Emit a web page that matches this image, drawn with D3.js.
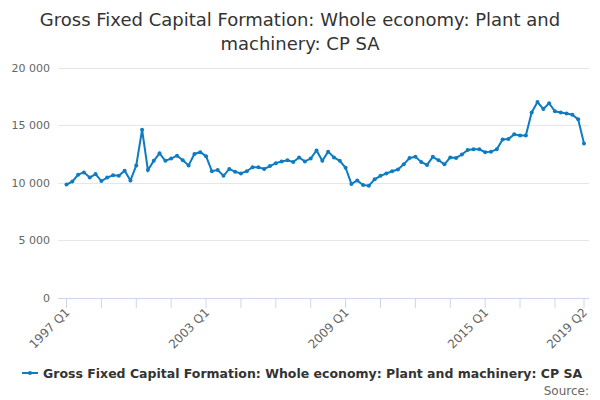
<!DOCTYPE html>
<html><head><meta charset="utf-8">
<script src="https://cdn.jsdelivr.net/npm/d3@7"></script>
<style>body{margin:0;background:#fff;font-family:"DejaVu Sans",sans-serif;}</style>
</head><body><svg id="c" width="600" height="400"></svg>
<script>
const startYear = 1997;
const values = [9850,10100,10700,10900,10450,10750,10150,10450,10650,10600,11050,10200,
11500,14600,11100,11900,12550,11900,12100,12350,11950,11500,12500,12650,
12300,11000,11100,10600,11200,10950,10800,11000,11350,11350,11200,11450,
11700,11850,11950,11800,12200,11850,12100,12800,11900,12700,12200,11900,
11300,9900,10200,9800,9750,10300,10600,10800,11000,11150,11600,12150,
12250,11800,11550,12250,11950,11600,12200,12150,12450,12850,12900,12900,
12650,12700,12900,13750,13800,14200,14100,14100,16100,17000,16400,16900,
16200,16100,16000,15900,15500,13400];
const categories = values.map((v,i)=>`${startYear+Math.floor(i/4)} Q${i%4+1}`);
const yTicks = [0,5000,10000,15000,20000];
const labelIdx = [0,24,48,72,89];
const title = ["Gross Fixed Capital Formation: Whole economy: Plant and","machinery: CP SA"];
const seriesName = "Gross Fixed Capital Formation: Whole economy: Plant and machinery: CP SA";

const svg = d3.select("#c");
const color = "#0f7bc0";
const x = d3.scalePoint().domain(categories).range([66.5,584]);
const y = d3.scaleLinear().domain([0,20000]).range([298,67.5]);
const fmt = v => d3.format(",")(v).replace(/,/g," ");

svg.selectAll("text.title").data(title).enter().append("text")
  .attr("x",300).attr("y",(d,i)=>26+i*24).attr("text-anchor","middle")
  .attr("font-size",18).attr("fill","#333").text(d=>d);

// grid
svg.append("g").selectAll("line").data(yTicks.filter(d=>d>0)).enter().append("line")
  .attr("x1",58).attr("x2",589).attr("y1",d=>Math.round(y(d))+0.5).attr("y2",d=>Math.round(y(d))+0.5)
  .attr("stroke","#e6e6e6");
svg.append("g").selectAll("text").data(yTicks).enter().append("text")
  .attr("x",50).attr("y",d=>y(d)+4).attr("text-anchor","end")
  .attr("font-size",11).attr("fill","#666").text(fmt);

// x axis
svg.append("line").attr("x1",58).attr("x2",589).attr("y1",298.5).attr("y2",298.5).attr("stroke","#ccd6eb");
const tickIdx = d3.range(0,85,6).concat([89]);
svg.append("g").selectAll("line").data(tickIdx).enter().append("line")
  .attr("x1",i=>x(categories[i])).attr("x2",i=>x(categories[i]))
  .attr("y1",298).attr("y2",308).attr("stroke","#ccd6eb");
svg.append("g").selectAll("text").data(labelIdx).enter().append("text")
  .attr("transform",i=>`translate(${x(categories[i])+4},${313}) rotate(-45)`)
  .attr("text-anchor","end").attr("font-size",12).attr("fill","#666").text(i=>categories[i]);

// line
const line = d3.line().x((d,i)=>x(categories[i])).y(d=>y(d));
svg.append("path").datum(values).attr("d",line).attr("fill","none")
  .attr("stroke",color).attr("stroke-width",2);
svg.append("g").selectAll("circle").data(values).enter().append("circle")
  .attr("cx",(d,i)=>x(categories[i])).attr("cy",d=>y(d)).attr("r",2).attr("fill",color);

// legend
svg.append("line").attr("x1",22).attr("x2",38).attr("y1",373).attr("y2",373).attr("stroke",color).attr("stroke-width",2);
svg.append("circle").attr("cx",30).attr("cy",373).attr("r",2).attr("fill",color);
svg.append("text").attr("x",43).attr("y",377.5).attr("font-size",12.5).attr("font-weight","bold")
  .attr("fill","#333").text(seriesName);
svg.append("text").attr("x",589).attr("y",395).attr("text-anchor","end").attr("font-size",12)
  .attr("fill","#666").text("Source:");
</script></body></html>
